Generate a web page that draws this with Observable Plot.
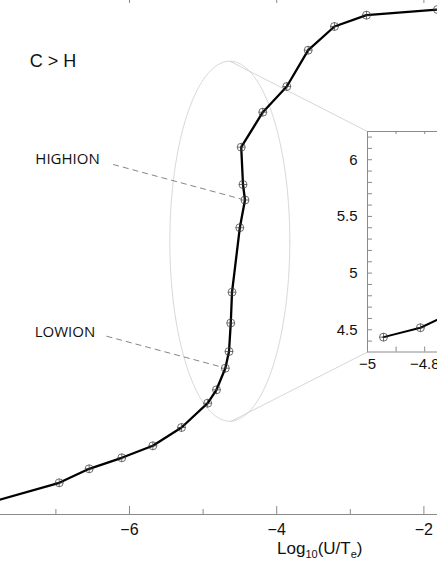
<!DOCTYPE html>
<html><head><meta charset="utf-8">
<script src="https://cdn.jsdelivr.net/npm/d3@7"></script>
<script src="https://cdn.jsdelivr.net/npm/@observablehq/plot@0.6"></script>
<style>
body{margin:0;background:#fff;}
#wrap{position:relative;width:437px;height:569px;overflow:hidden;background:#fff;}
#main{position:absolute;left:0;top:0;width:437px;height:569px;}
#inset{position:absolute;left:337px;top:131px;width:173px;height:241px;}
#wrap svg{max-width:none !important;}
#xlabel{position:absolute;left:277px;top:539px;font-size:17px;font-family:"Liberation Sans",Arial,sans-serif;color:#111;white-space:nowrap;line-height:normal;}
#xlabel span{font-size:11px;position:relative;top:4px;}
</style>
</head><body>
<div id="wrap"><div id="main"></div><div id="inset"></div>
<div id="xlabel">Log<span>10</span>(U/T<span>e</span>)</div></div>
<script>
// ---- main curve ----
const mainX = [-8.296, -6.955, -6.548, -6.105, -5.683, -5.293, -4.938, -4.818, -4.698, -4.648, -4.624, -4.607, -4.501, -4.431, -4.458, -4.482, -4.189, -3.863, -3.572, -3.215, -2.780, -1.815];
const mainY = [2.036, 2.317, 2.457, 2.567, 2.687, 2.870, 3.113, 3.247, 3.463, 3.630, 3.915, 4.223, 4.868, 5.145, 5.300, 5.673, 6.023, 6.280, 6.643, 6.880, 6.993, 7.050];
// ---- inset curve ----
const insetX = [-4.944, -4.815, -4.693];
const insetY = [4.435, 4.518, 4.663];
// ---- ticks ----
const mainMajorTicks = [-8, -6, -4, -2];
const mainLabelTicks = [-6, -4, -2];
const mainMinorTicks = [-7, -5, -3];
const insetXTicks = [-5, -4.9, -4.8, -4.7, -4.6, -4.5];
const insetXLabels = [-5, -4.8];
const insetYTicks = [4.4, 4.5, 4.6, 4.7, 4.8, 4.9, 5.0, 5.1, 5.2, 5.3, 5.4, 5.5, 5.6, 5.7, 5.8, 5.9, 6.0, 6.1, 6.2];
const insetYLabels = [4.5, 5, 5.5, 6];
// ---- annotations ----
const labelText = ["C > H", "HIGHION", "LOWION"];
const labelX = [-7.039, -6.842, -6.876];
const labelY = [6.533, 5.557, 3.820];
const leaderX1 = [-6.222, -6.3125];
const leaderY1 = [5.50, 3.783];
const leaderX2 = [-4.484, -4.740];
const leaderY2 = [5.155, 3.473];
// zoom ellipse (center, radii) and connectors to inset corners
const ellipseCenter = [-4.637, 4.733];
const ellipseRadii = [0.815, 1.80];
const connX1 = [-4.637, -4.625];
const connY1 = [6.533, 2.93];
const connX2 = [-2.766, -2.766];
const connY2 = [5.83, 3.625];

const xDomainMain = [-7.7527, -1.8152];
const yDomainMain = [2, 7.14];
const xDomainInset = [-5, -4.5];
const yDomainInset = [4.304, 6.249];

const mainData = mainX.map((x, i) => ({x, y: mainY[i]}));
const insetData = insetX.map((x, i) => ({x, y: insetY[i]}));
const labels = labelText.map((t, i) => ({t, x: labelX[i], y: labelY[i]}));
const leaders = leaderX1.map((x1, i) => ({x1, y1: leaderY1[i], x2: leaderX2[i], y2: leaderY2[i]}));
const connectors = connX1.map((x1, i) => ({x1, y1: connY1[i], x2: connX2[i], y2: connY2[i]}));
const ellipse = d3.range(0, 361, 2).map(a => ({
  x: ellipseCenter[0] + ellipseRadii[0] * Math.cos(a * Math.PI / 180),
  y: ellipseCenter[1] + ellipseRadii[1] * Math.sin(a * Math.PI / 180)
}));

const circlePlus = {
  draw(ctx, size) {
    const r = Math.sqrt(size / Math.PI);
    ctx.moveTo(r, 0);
    ctx.arc(0, 0, r, 0, 2 * Math.PI);
    ctx.moveTo(-r, 0); ctx.lineTo(r, 0);
    ctx.moveTo(0, -r); ctx.lineTo(0, r);
  }
};
const fmt = d => (d < 0 ? "\u2212" : "") + String(Math.abs(d));

const axisColor = "#8a8a8a";
const font = "'Liberation Sans', Arial, sans-serif";

const main = Plot.plot({
  width: 437, height: 569,
  marginLeft: 0, marginRight: 0, marginTop: 0, marginBottom: 55,
  style: {background: "none", fontFamily: font, color: "#111", overflow: "visible"},
  x: {domain: xDomainMain},
  y: {domain: yDomainMain, axis: null},
  marks: [
    Plot.line(ellipse, {x: "x", y: "y", stroke: "#cccccc", strokeWidth: 0.8, strokeDasharray: "1.5,0.8"}),
    Plot.link(connectors, {x1: "x1", y1: "y1", x2: "x2", y2: "y2", stroke: "#cccccc", strokeWidth: 0.8}),
    Plot.link(leaders, {x1: "x1", y1: "y1", x2: "x2", y2: "y2", stroke: "#777", strokeWidth: 0.9, strokeDasharray: "6,4"}),
    Plot.ruleY([yDomainMain[0]], {stroke: axisColor, strokeWidth: 1.2}),
    Plot.tickX(mainMajorTicks, {x: d => d, stroke: axisColor, insetTop: 506, clip: true}),
    Plot.tickX(mainMinorTicks, {x: d => d, stroke: axisColor, insetTop: 509, clip: true}),
    Plot.tickX(mainMajorTicks, {x: d => d, stroke: axisColor, insetBottom: 511, clip: true}),
    Plot.axisX({ticks: mainLabelTicks, tickSize: 0, tickPadding: 9, fontSize: 16, label: null, fontFamily: font, tickFormat: fmt}),
    Plot.line(mainData, {x: "x", y: "y", stroke: "#000", strokeWidth: 2.3, clip: true}),
    Plot.dot(mainData, {x: "x", y: "y", symbol: circlePlus, r: 4, stroke: "#333", strokeWidth: 0.7, fill: "none", clip: true}),
    Plot.text(labels.slice(0, 1), {x: "x", y: "y", text: "t", fontSize: 18, fontFamily: font, fill: "#111"}),
    Plot.text(labels.slice(1), {x: "x", y: "y", text: "t", fontSize: 15, fontFamily: "'Open Sans', sans-serif", fill: "#111"})
  ]
});
document.getElementById("main").append(main);

const insetW = 143, insetH = 220.5;
const inset = Plot.plot({
  width: 30 + insetW, height: insetH + 20,
  marginLeft: 30, marginRight: 0, marginTop: 0, marginBottom: 20,
  style: {background: "none", fontFamily: font, color: "#111", overflow: "visible"},
  x: {domain: xDomainInset},
  y: {domain: yDomainInset},
  marks: [
    Plot.frame({fill: "white", stroke: "none"}),
    Plot.ruleX([xDomainInset[0]], {stroke: axisColor}),
    Plot.ruleY([yDomainInset[0]], {stroke: axisColor}),
    Plot.ruleY([yDomainInset[1]], {stroke: axisColor}),
    Plot.tickY(insetYTicks, {y: d => d, stroke: axisColor, insetRight: insetW - 5}),
    Plot.tickX(insetXTicks, {x: d => d, stroke: axisColor, insetTop: insetH - 5}),
    Plot.tickX(insetXTicks, {x: d => d, stroke: axisColor, insetBottom: insetH - 3}),
    Plot.axisY({ticks: insetYLabels, tickSize: 0, tickPadding: 10, fontSize: 15, label: null, fontFamily: font, tickFormat: fmt}),
    Plot.axisX({ticks: insetXLabels, tickSize: 0, tickPadding: 6, fontSize: 15, label: null, fontFamily: font, tickFormat: fmt}),
    Plot.line(insetData, {x: "x", y: "y", stroke: "#000", strokeWidth: 2, clip: true}),
    Plot.dot(insetData, {x: "x", y: "y", symbol: circlePlus, r: 4, stroke: "#333", strokeWidth: 0.7, fill: "none", clip: true})
  ]
});
document.getElementById("inset").append(inset);
</script>
</body></html>
